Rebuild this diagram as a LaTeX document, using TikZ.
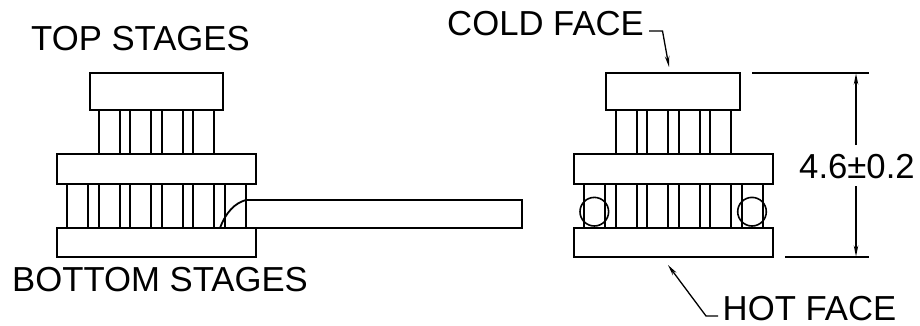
\documentclass[tikz,border=0pt]{standalone}
\usepackage{fontspec}
\setmainfont{Liberation Sans}
\usetikzlibrary{arrows.meta}
\tikzset{
  x=1pt,y=-1pt,
  plate/.style={draw,line width=1.9pt,fill=white},
  pillar/.style={draw,line width=1.8pt},
  lbl/.style={font=\fontsize{34.7}{34.7}\selectfont,inner sep=0pt,anchor=base west},
  thin line/.style={line width=1.3pt},
  dimtip/.style={-{Stealth[length=11pt,width=4.5pt]},line width=1.3pt}
}
\begin{document}
\begin{tikzpicture}
\useasboundingbox (0,0) rectangle (920,326);
% pillars
\foreach \a/\b in {99/120,130/151,162/183,193/214}{
  \draw[pillar] (\a,110) rectangle (\b,154);
  \draw[pillar] (\a+517,110) rectangle (\b+517,154);
}
\foreach \a/\b in {67/88,99/120,130/151,162/183,193/214,225/246}{
  \draw[pillar] (\a,184) rectangle (\b,228);
  \draw[pillar] (\a+517,184) rectangle (\b+517,228);
}
% plates
\draw[plate] (90,73) rectangle (223,110);
\draw[plate] (57,154) rectangle (256,184);
\draw[plate] (57,228) rectangle (256,257);
\draw[plate] (606,73) rectangle (740,110);
\draw[plate] (574,154) rectangle (773,184);
\draw[plate] (574,228) rectangle (773,257);
% strip
\coordinate (s1) at (246,200);
\coordinate (s2) at (522,200);
\coordinate (s3) at (522,228);
\coordinate (s4) at (246,228);
\coordinate (c0) at (220,228);
\draw[pillar] (s1) -- (s2) -- (s3) -- (s4);
\draw[pillar] (c0) .. controls (226,212) and (235,203) .. (s1);
% circles
\node[draw,circle,line width=1.6pt,minimum size=28.6pt,inner sep=0pt] (ca) at (594.3,211.7) {};
\node[draw,circle,line width=1.6pt,minimum size=28.6pt,inner sep=0pt] (cb) at (752,211.7) {};
% dims
\coordinate (t0) at (752,73);
\coordinate (t1) at (869,73);
\coordinate (b0) at (785,257);
\coordinate (b1) at (869,257);
\draw[thin line] (t0) -- (t1);
\draw[thin line] (b0) -- (b1);
\coordinate (dt) at (856,73.5);
\coordinate (db) at (856,256.5);
\coordinate (du) at (856,145);
\coordinate (dl) at (856,186);
\draw[dimtip] (du) -- (dt);
\draw[dimtip] (dl) -- (db);
\node[lbl] (dim) at (799,178.5) {4.6±0.2};
% leaders
\coordinate (l1) at (649,31);
\coordinate (l2) at (662.5,31);
\coordinate (l3) at (669,67);
\draw[dimtip] (l1) -- (l2) -- (l3);
\coordinate (h1) at (718,316);
\coordinate (h2) at (706,316);
\coordinate (h3) at (668,265);
\draw[dimtip] (h1) -- (h2) -- (h3);
% labels
\node[lbl] (top) at (31,51) {TOP STAGES};
\node[lbl] (bot) at (12,291.5) {BOTTOM STAGES};
\node[lbl] (cold) at (447,36) {COLD FACE};
\node[lbl] (hot) at (722.5,320.5) {HOT FACE};
\end{tikzpicture}
\end{document}
